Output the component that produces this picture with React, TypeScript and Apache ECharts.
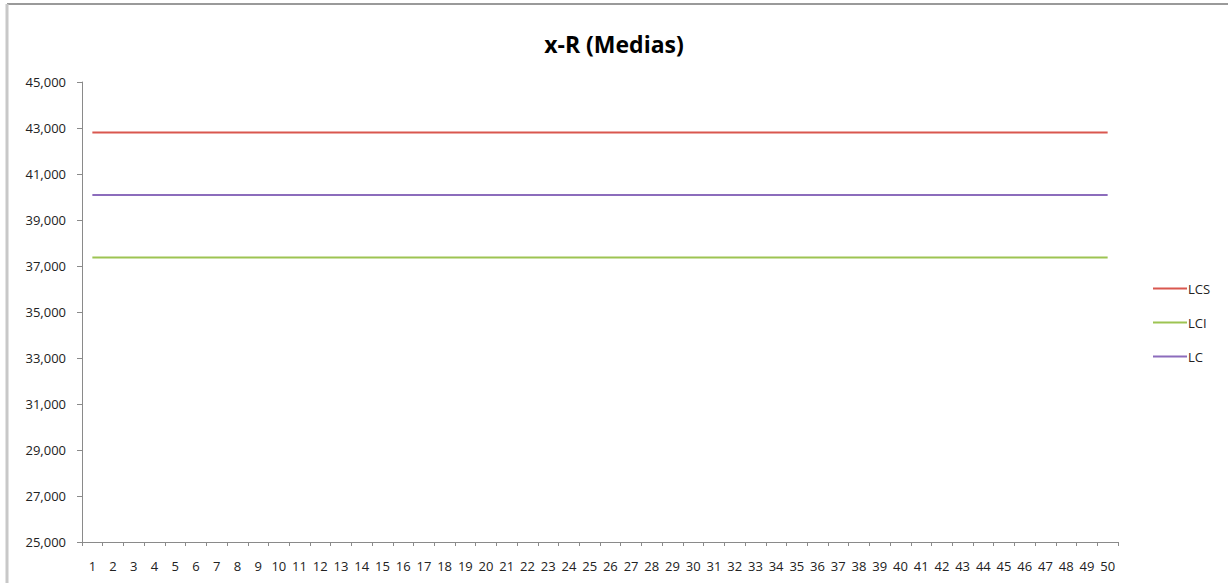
import React, { useEffect, useRef } from "react";
import * as echarts from "echarts";

const categories: string[] = Array.from({ length: 50 }, (_, i) => String(i + 1));
const lcsValue = 42800;
const lciValue = 37370;
const lcValue = 40085;
const LCS: number[] = categories.map(() => lcsValue);
const LCI: number[] = categories.map(() => lciValue);
const LC: number[] = categories.map(() => lcValue);
const seriesNames = ["LCS", "LCI", "LC"];
const seriesColors = ["#D9574F", "#9DC452", "#8C6CBC"];
const yMin = 25000;
const yMax = 45000;
const yStep = 2000;

export default function App() {
  const ref = useRef<HTMLDivElement>(null);
  useEffect(() => {
    if (!ref.current) return;
    const chart = echarts.init(ref.current, null, { renderer: "svg" });
    const font = "'Open Sans', sans-serif";
    const data = [LCS, LCI, LC];
    chart.setOption({
      animation: false,
      backgroundColor: "#ffffff",
      title: {
        text: "x-R (Medias)",
        left: "center",
        top: 27,
        textStyle: { fontFamily: font, fontSize: 23, fontWeight: "bold", color: "#000" },
      },
      legend: {
        orient: "vertical",
        left: 1148,
        top: 277,
        icon: "rect",
        itemWidth: 34,
        itemHeight: 2,
        itemGap: 21,
        data: seriesNames,
        textStyle: { fontFamily: font, fontSize: 13, color: "#222", padding: [0, 0, 0, -4] },
      },
      graphic: [
        { type: "line", shape: { x1: 7, y1: 4, x2: 1228, y2: 4 }, style: { stroke: "#9a9a9a", lineWidth: 2 } },
        { type: "line", shape: { x1: 7, y1: 4, x2: 7, y2: 583 }, style: { stroke: "#c8c8c8", lineWidth: 3 } },
      ],
      grid: { left: 82, right: 110, top: 82, bottom: 41 },
      xAxis: {
        type: "category",
        data: categories,
        boundaryGap: true,
        axisLine: { lineStyle: { color: "#8a8a8a", width: 1 } },
        axisTick: { show: true, length: 4, lineStyle: { color: "#8a8a8a" } },
        axisLabel: { interval: 0, margin: 17, fontFamily: font, fontSize: 13, color: "#222" },
      },
      yAxis: {
        type: "value",
        min: yMin,
        max: yMax,
        interval: yStep,
        axisLine: { show: true, lineStyle: { color: "#8a8a8a", width: 1 } },
        axisTick: { show: true, length: 5, lineStyle: { color: "#8a8a8a" } },
        splitLine: { show: false },
        axisLabel: {
          margin: 16,
          fontFamily: font,
          fontSize: 13,
          color: "#222",
          formatter: (v: number) => v.toLocaleString("en-US"),
        },
      },
      series: seriesNames.map((name, i) => ({
        name,
        type: "line",
        data: data[i],
        symbol: "none",
        color: seriesColors[i],
        lineStyle: { color: seriesColors[i], width: 2 },
      })),
    });
    return () => chart.dispose();
  }, []);
  return <div ref={ref} style={{ width: 1228, height: 583, position: "absolute", left: 0, top: 0 }} />;
}
